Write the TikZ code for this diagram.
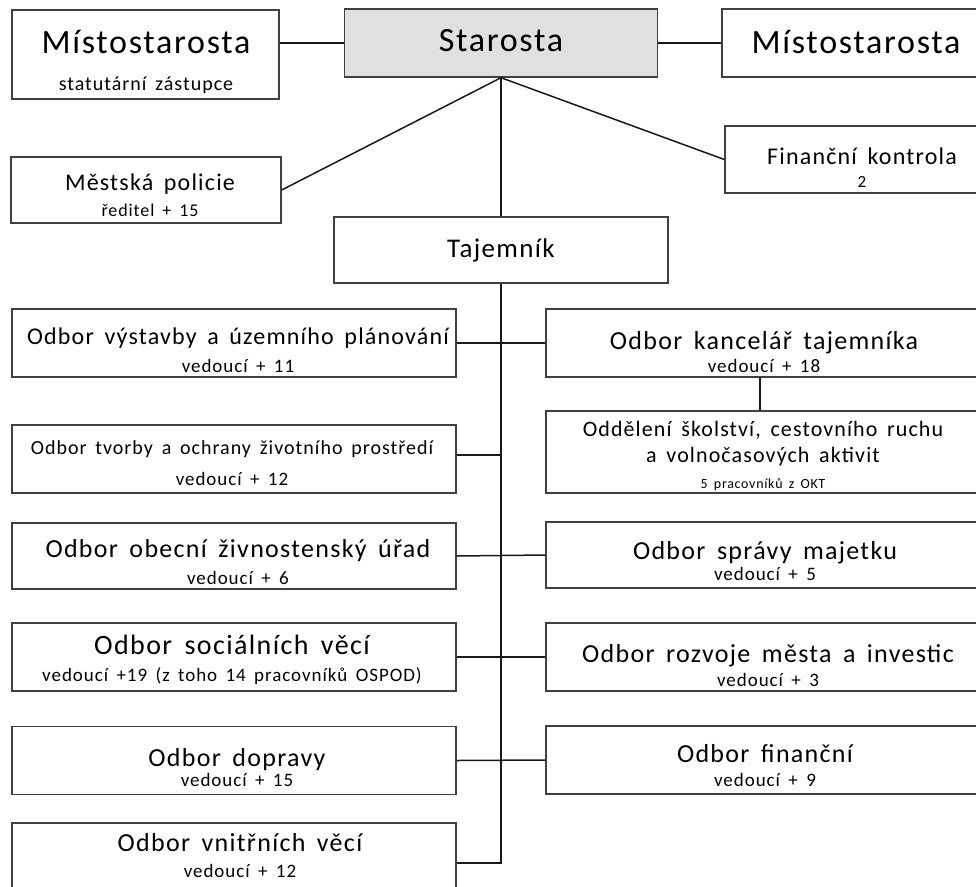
\documentclass[tikz,border=0pt]{standalone}
\usepackage{fontspec}
\setmainfont{Carlito}[LetterSpace=5,WordSpace=1.6]
\usepackage{tikz}
\usetikzlibrary{positioning,calc}
\newcommand{\fz}[1]{\fontsize{#1}{#1}\selectfont}
\newcommand{\bs}[1]{\fontsize{10}{#1}\selectfont}

\begin{document}
\begin{tikzpicture}[
  x=1pt, y=-1pt,
  b/.style={draw=black!75, line width=1.4pt, minimum width=444pt, minimum height=68pt, inner sep=0pt, fill=white},
  g/.style={b, fill=black!12},
  t/.style={align=center, inner sep=0pt},
  ln/.style={line width=1.5pt, black!90}
]
\useasboundingbox (0,0) rectangle (976,886);

% boxes, top level
\node[g, minimum width=313pt] (star) at (501,43) {};
\node[b, minimum width=267pt, minimum height=89pt] (mistL) at (145.5,54.5) {};
\node[b, minimum width=278pt] (mistR) at (861,43) {};
\node[b, minimum width=270pt, minimum height=66pt] (pol) at (146,190) {};
\node[b, minimum width=275pt, minimum height=67pt] (kon) at (862.5,159.5) {};
\node[b, minimum width=334pt, minimum height=66pt] (taj) at (501,250) {};

% odbory vlevo
\node[b] (vys) at (234,343) {};
\node[b] (tvo) at (234,459) {};
\node[b, minimum height=66pt] (obe) at (234,556) {};
\node[b] (soc) at (234,657) {};
\node[b] (dop) at (234,760.5) {};
\node[b] (vni) at (234,857) {};

% odbory vpravo
\node[b, minimum width=454pt] (kan) at (773,343) {};
\node[b, minimum width=454pt, minimum height=82pt] (odd) at (773,452) {};
\node[b, minimum width=454pt, minimum height=66pt] (spr) at (773,555) {};
\node[b, minimum width=454pt] (roz) at (773,657) {};
\node[b, minimum width=454pt] (fin) at (773,760) {};

% texts
\node[t] (starT) at (501,41) {\fz{34}Starosta};
\node[t, font=\bs{37}] (mistLT) at (146,62) {\fz{34}Místostarosta\\\fz{20}statutární zástupce};
\node[t] (mistRT) at (856,42) {\fz{34}Místostarosta};
\node[t, font=\bs{26}] (polT) at (150,195) {\fz{24}Městská policie\\\fz{18}ředitel + 15};
\node[t, font=\bs{23}] (konT) at (862,168) {\fz{24}Finanční kontrola\\\fz{17}2};
\node[t] (tajT) at (501,250) {\fz{27}Tajemník};
\node[t, font=\bs{28}] (vysT) at (238,350) {\fz{24}Odbor výstavby a územního plánování\\\fz{19}vedoucí + 11};
\node[t, font=\bs{31}] (tvoT) at (232,463) {\fz{20}Odbor tvorby a ochrany životního prostředí\\\fz{19}vedoucí + 12};
\node[t, font=\bs{27}] (obeT) at (238,562) {\fz{26}Odbor obecní živnostenský úřad\\\fz{19}vedoucí + 6};
\node[t, font=\bs{27}] (socT) at (232,660) {\fz{28}Odbor sociálních věcí\\\fz{19}vedoucí +19 (z toho 14 pracovníků OSPOD)};
\node[t, font=\bs{20}] (dopT) at (237,768) {\fz{26}Odbor dopravy\\\fz{19}vedoucí + 15};
\node[t, font=\bs{26}] (vniT) at (240,856) {\fz{26}Odbor vnitřních věcí\\\fz{19}vedoucí + 12};
\node[t, font=\bs{23}] (kanT) at (764,352) {\fz{26}Odbor kancelář tajemníka\\\fz{19}vedoucí + 18};
\node[t, font=\bs{26}] (oddT) at (763,456) {\fz{22}Oddělení školství, cestovního ruchu\\\fz{22}a volnočasových aktivit\\\fz{14}5 pracovníků z OKT};
\node[t, font=\bs{21}] (sprT) at (765,561) {\fz{26}Odbor správy majetku\\\fz{19}vedoucí + 5};
\node[t, font=\bs{24}] (rozT) at (768,666) {\fz{26}Odbor rozvoje města a investic\\\fz{19}vedoucí + 3};
\node[t, font=\bs{24}] (finT) at (765,766) {\fz{26}Odbor finanční\\\fz{19}vedoucí + 9};

% spoje
\draw[ln] (star.west) -- (star.west -| mistL.east);
\draw[ln] (star.east) -- (star.east -| mistR.west);
\draw[ln] (star.south) -- (pol.east);
\draw[ln] (star.south) -- (kon.west);
\draw[ln] (star.south) -- (taj.north);
\draw[ln] (taj.south) |- ([yshift=-6pt]vni.east);
\draw[ln] (vys.east) -- (kan.west);
\draw[ln] ([yshift=4pt]tvo.east) -- ([yshift=4pt]tvo.east -| taj.south);
\draw[ln] (obe.east) -- (spr.west);
\draw[ln] (soc.east) -- (roz.west);
\draw[ln] (dop.east) -- (fin.west);
\draw[ln] (kan.south -| 760,0) -- (odd.north -| 760,0);
\end{tikzpicture}
\end{document}
